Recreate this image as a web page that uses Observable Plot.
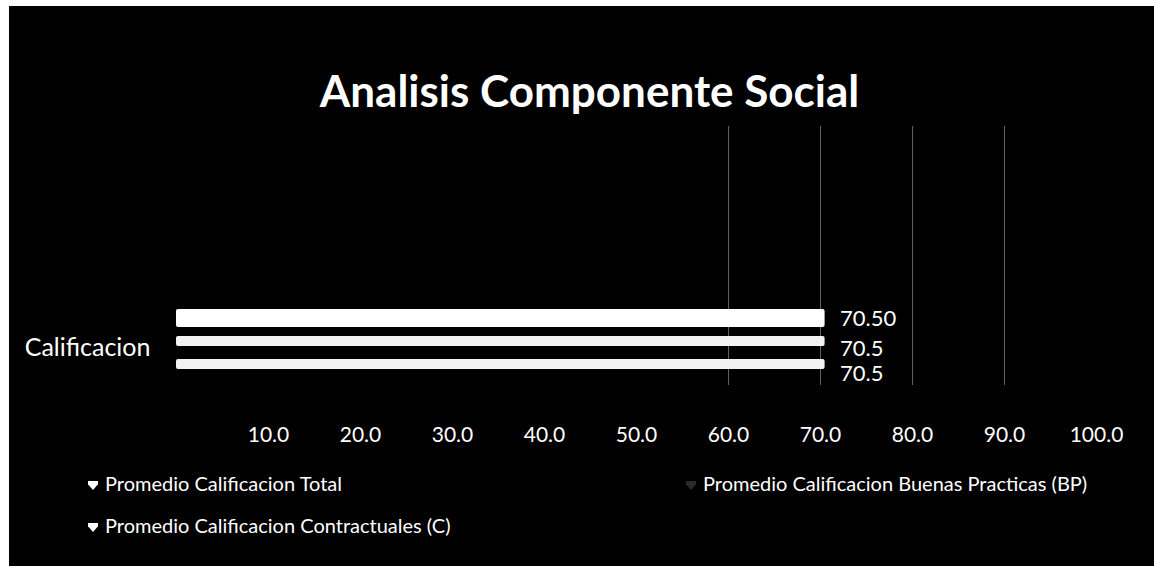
<!DOCTYPE html>
<html><head><meta charset="utf-8">
<script src="https://cdn.jsdelivr.net/npm/d3@7"></script>
<script src="https://cdn.jsdelivr.net/npm/@observablehq/plot@0.6"></script>
<style>
body{margin:0;background:#fff;font-family:Lato,"Open Sans",sans-serif;}
#frame{position:absolute;left:9px;top:6px;width:1145px;height:560px;background:#000;overflow:hidden;color:#fff}
#title{position:absolute;left:0;width:1145px;top:58px;text-align:center;font-size:44px;font-weight:700;line-height:52px;padding-left:16px;box-sizing:border-box;white-space:nowrap}
#chart{position:absolute;left:0;top:114px}
.leg{position:absolute;font-size:20px;line-height:24px;white-space:nowrap;transform:translateY(-50%)}
.sw{display:inline-block;width:10px;height:9px;margin-right:7px;vertical-align:1px;clip-path:polygon(0 0,100% 0,100% 35%,50% 100%,0 35%)}
</style></head>
<body>
<div id="frame">
  <div id="title">Analisis Componente Social</div>
  <div id="chart"></div>
  <div id="legend"></div>
</div>
<script>
const title = "Analisis Componente Social";
const category = "Calificacion";
const series = ["Promedio Calificacion Total", "Promedio Calificacion Buenas Practicas (BP)", "Promedio Calificacion Contractuales (C)"];
const values = [70.5, 70.5, 70.5];
const valueLabels = ["70.5", "70.5", "70.50"];
const ticks = [10, 20, 30, 40, 50, 60, 70, 80, 90, 100];
const gridValues = [60, 70, 80, 90];
const swatchColors = ["#ffffff", "#2a2a2a", "#ffffff"];

const data = series.map((s, i) => ({series: s, value: values[i], label: valueLabels[i]}));
const topDown = series.slice().reverse(); // Excel draws first series at the bottom
const row = k => data.filter(d => d.series === topDown[k]);

const chart = Plot.plot({
  width: 1145,
  height: 340,
  marginLeft: 167,
  marginRight: 58,
  marginTop: 6,
  marginBottom: 75,
  style: {background: "transparent", color: "#fff", fontFamily: "Lato, 'Open Sans', sans-serif"},
  x: {domain: [0, 100], axis: null},
  y: {domain: topDown, range: [190.6, 250.4], paddingInner: 0.4, paddingOuter: 0, axis: null},
  marks: [
    Plot.ruleX(gridValues, {x: d => d, stroke: "#8a8a8a", strokeWidth: 1, strokeOpacity: 0.7}),
    Plot.axisX({ticks, tickFormat: d3.format(".1f"), tickSize: 0, tickPadding: 42, fontSize: 21, fill: "#fff", label: null}),
    Plot.barX(row(0), {x: "value", y: "series", fill: "#fff", insetTop: -2, insetBottom: -2, rx: 2}),
    Plot.barX(row(1), {x: "value", y: "series", fill: "#f2f2f2", insetTop: 2, insetBottom: 2, rx: 2}),
    Plot.barX(row(2), {x: "value", y: "series", fill: "#f2f2f2", insetTop: 2, insetBottom: 2, rx: 2}),
    Plot.text(row(0), {x: "value", y: "series", text: "label", dx: 15, dy: 0, textAnchor: "start", fill: "#fff", fontSize: 22}),
    Plot.text(row(1), {x: "value", y: "series", text: "label", dx: 15, dy: 7, textAnchor: "start", fill: "#fff", fontSize: 22}),
    Plot.text(row(2), {x: "value", y: "series", text: "label", dx: 15, dy: 9, textAnchor: "start", fill: "#fff", fontSize: 22}),
    Plot.text([category], {x: () => 0, y: () => topDown[1], text: d => d, dx: -26, dy: 6, textAnchor: "end", fill: "#fff", fontSize: 25})
  ]
});
document.getElementById("chart").appendChild(chart);
document.getElementById("title").textContent = title;

const legendPos = [[96, 477], [694, 477], [96, 519]];
const leg = document.getElementById("legend");
series.forEach((s, i) => {
  const el = document.createElement("div");
  el.className = "leg";
  el.style.left = legendPos[i][0] - 17 + "px";
  el.style.top = legendPos[i][1] + "px";
  el.innerHTML = `<span class="sw" style="background:${swatchColors[i]}"></span>`;
  el.appendChild(document.createTextNode(s));
  leg.appendChild(el);
});
</script>
</body></html>
